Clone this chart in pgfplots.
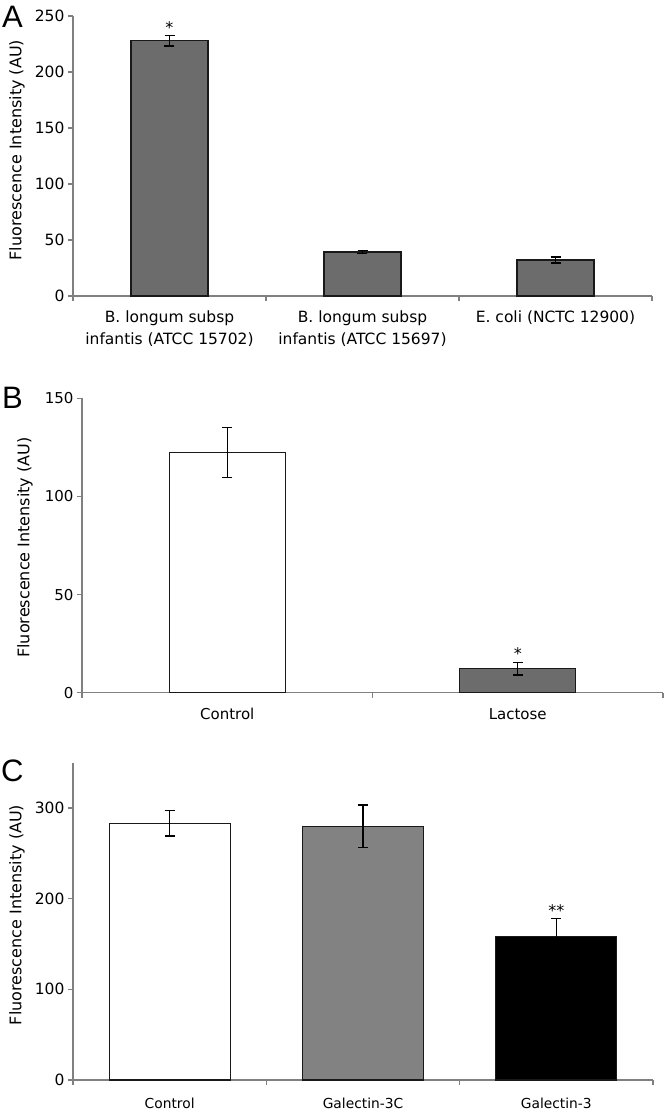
\documentclass[border=0pt]{standalone}
\usepackage{fontspec}
\setmainfont{DejaVu Sans}
\newfontfamily\letterfont{Liberation Sans}
\usepackage{pgfplots}
\pgfplotsset{compat=1.18}
\definecolor{axisgray}{RGB}{128,128,128}
\definecolor{bardark}{RGB}{108,108,108}
\definecolor{barmid}{RGB}{130,130,130}
\definecolor{edge}{RGB}{25,25,25}
\pgfplotsset{
  panel/.style={
    scale only axis, clip=false,
    axis x line=bottom, axis y line=left,
    axis line style={draw=axisgray, line width=1.3pt},
    every outer x axis line/.append style={-},
    every outer y axis line/.append style={-},
    tick align=outside, major tick length=5pt,
    ytick style={draw=axisgray, line width=1.3pt},
    xtick style={draw=none},
    extra x tick style={xtick style={draw=axisgray, line width=1.3pt}},
    extra x tick labels={},
    /pgf/number format/assume math mode=true,
    ymin=0,
    ylabel={Fluorescence Intensity (AU)},
    ylabel style={anchor=south, inner sep=0pt, font=\fontsize{16}{19}\selectfont},
    yticklabel style={font=\fontsize{15.5}{18}\selectfont},
    xticklabel style={align=center},
  },
  bars/.style={ybar, bar shift=0pt, draw=edge, line width=1.3pt,
    error bars/y dir=both, error bars/y explicit,
    error bars/error mark=|,
    error bars/error bar style={black, line width=1.3pt},
    error bars/error mark options={black, line width=1.3pt, mark size=5pt}},
}
\begin{document}
\begin{tikzpicture}
\useasboundingbox (0pt,0pt) rectangle (666pt,-1112pt);
% ---------------- Panel A ----------------
\begin{axis}[panel,
  at={(73pt,-296pt)}, anchor=south west,
  width=579pt, height=280pt,
  xmin=0.5, xmax=3.5, ymax=250,
  ytick={0,50,100,150,200,250},
  xtick={1,2,3},
  xticklabels={{B. longum subsp\\infantis (ATCC 15702)},{B. longum subsp\\infantis (ATCC 15697)},{E. coli (NCTC 12900)}},
  xticklabel style={font=\fontsize{15.5}{22.5}\selectfont, yshift=-6pt},
  extra x ticks={0.5,1.5,2.5,3.5},
  ylabel style={at={(axis description cs:-0.0829,0.521)}},
]
\addplot[fill=bardark, bars, bar width=77pt] table[x=x, y=y, y error=e] {
x y e
1 228 4.7
2 39.3 1.5
3 32.1 2.7
};
\node[anchor=base, font=\fontsize{16}{16}\selectfont] at (axis cs:1,234) {*};
\end{axis}
% ---------------- Panel B ----------------
\begin{axis}[panel,
  at={(82pt,-692.7pt)}, anchor=south west,
  width=581pt, height=294.4pt,
  xmin=0.5, xmax=2.5, ymax=150,
  ytick={0,50,100,150},
  yticklabel style={font=\fontsize{15}{18}\selectfont},
  xtick={1,2},
  xticklabels={Control,Lactose},
  xticklabel style={font=\fontsize{15}{18}\selectfont, yshift=-7pt},
  extra x ticks={0.5,1.5,2.5},
  ylabel style={at={(axis description cs:-0.0843,0.493)}},
]
\addplot[fill=white, bars, bar width=116pt] coordinates {(1,122.3) +- (0,12.7)};
\addplot[fill=bardark, bars, bar width=116pt] coordinates {(2,12.2) +- (0,3.1)};
\node[anchor=base, font=\fontsize{16}{16}\selectfont] at (axis cs:2,16.8) {*};
\end{axis}
% ---------------- Panel C ----------------
\begin{axis}[panel,
  at={(73pt,-1080pt)}, anchor=south west,
  width=580pt, height=317.3pt,
  xmin=0.5, xmax=3.5, ymax=350,
  ytick={0,100,200,300},
  xtick={1,2,3},
  xticklabels={Control,Galectin-3C,Galectin-3},
  xticklabel style={font=\fontsize{13.8}{16}\selectfont, yshift=-9pt},
  extra x ticks={0.5,1.5,2.5,3.5},
  ylabel style={at={(axis description cs:-0.0828,0.52)}},
]
\addplot[fill=white, bars, bar width=121pt] coordinates {(1,283) +- (0,14)};
\addplot[fill=barmid, bars, bar width=121pt] coordinates {(2,279.7) +- (0,23.5)};
\addplot[fill=black, bars, bar width=121pt] coordinates {(3,158.5) +- (0,19.5)};
\node[anchor=base, font=\fontsize{16}{16}\selectfont] at (axis cs:3,180) {**};
\end{axis}
% ---------------- Panel letters ----------------
\node[anchor=base west, inner sep=0pt, font=\letterfont\fontsize{31}{31}\selectfont] at (2pt,-27pt) {A};
\node[anchor=base west, inner sep=0pt, font=\letterfont\fontsize{31}{31}\selectfont] at (2pt,-408pt) {B};
\node[anchor=base west, inner sep=0pt, font=\letterfont\fontsize{31}{31}\selectfont] at (1pt,-781pt) {C};
\end{tikzpicture}
\end{document}
